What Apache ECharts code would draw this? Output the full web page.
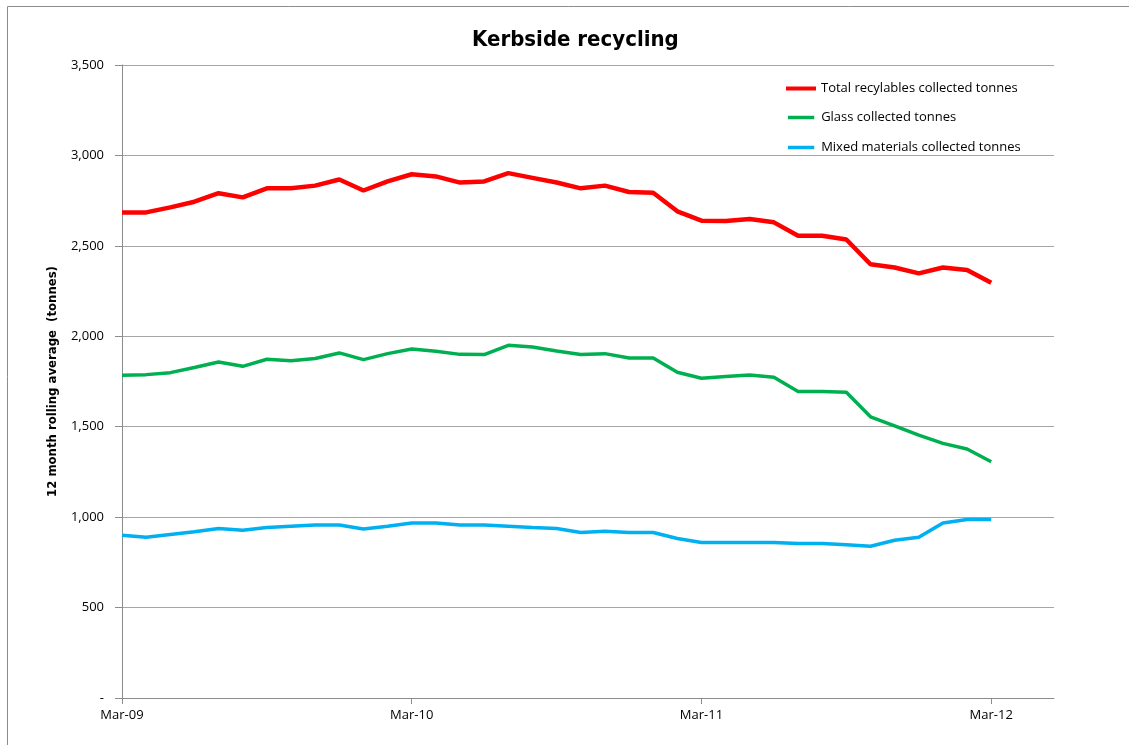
<!DOCTYPE html>
<html>
<head>
<meta charset="utf-8">
<script src="https://cdn.jsdelivr.net/npm/echarts@6/dist/echarts.min.js"></script>
<style>html,body{margin:0;padding:0;background:#fff}#c{width:1129px;height:745px}</style>
</head>
<body>
<div id="c"></div>
<script>
// Monthly points, Mar-09 .. Mar-12
const months = ['Mar-09','Apr-09','May-09','Jun-09','Jul-09','Aug-09','Sep-09','Oct-09','Nov-09','Dec-09','Jan-10','Feb-10',
  'Mar-10','Apr-10','May-10','Jun-10','Jul-10','Aug-10','Sep-10','Oct-10','Nov-10','Dec-10','Jan-11','Feb-11',
  'Mar-11','Apr-11','May-11','Jun-11','Jul-11','Aug-11','Sep-11','Oct-11','Nov-11','Dec-11','Jan-12','Feb-12','Mar-12'];
const totalRecyclables = [2685,2685,2713,2744,2791,2768,2818,2818,2833,2867,2806,2857,
  2896,2884,2850,2856,2902,2876,2850,2818,2833,2798,2794,2691,
  2639,2637,2648,2630,2556,2556,2535,2398,2380,2348,2380,2367,2296];
const glass = [1784,1788,1799,1827,1858,1834,1873,1865,1877,1908,1871,1904,
  1930,1917,1900,1899,1950,1941,1919,1899,1904,1880,1880,1801,
  1768,1778,1786,1773,1695,1695,1690,1555,1505,1454,1408,1377,1306];
const mixedMaterials = [900,889,904,919,937,928,943,950,957,957,934,950,
  968,968,956,956,950,943,937,915,922,915,915,882,
  860,860,860,860,854,854,847,839,872,889,968,987,987];
const seriesNames = ['Total recylables collected tonnes','Glass collected tonnes','Mixed materials collected tonnes'];
const seriesColors = ['#ff0000','#00b050','#00b0f0'];
const yTickValues = [0,500,1000,1500,2000,2500,3000,3500];
const yTickLabels = ['-','500','1,000','1,500','2,000','2,500','3,000','3,500'];
const xTickLabels = ['Mar-09','Mar-10','Mar-11','Mar-12'];

const xTickIdx = xTickLabels.map(l => months.indexOf(l));
const toPts = arr => arr.map((v, i) => [i, v]);
const font = "'Open Sans'";
const narrow = "'Liberation Sans Narrow','DejaVu Sans Condensed',sans-serif";
const legendTops = [77, 106, 136];
const legendThick = [4.5, 3.5, 3.5];
const chart = echarts.init(document.getElementById('c'));
chart.setOption({
  animation: false,
  backgroundColor: '#fff',
  graphic: [{type:'rect', shape:{x:7.5,y:6.5,width:1140,height:760}, style:{fill:'none', stroke:'#8c8c8c', lineWidth:1}, silent:true, z:-1}],
  title: {
    text: 'Kerbside recycling', left: 467, top: 24,
    textStyle: {fontFamily: narrow, fontWeight: 'bold', fontSize: 22, color: '#000'}
  },
  legend: seriesNames.map((n, i) => ({
    orient: 'vertical', left: i === 0 ? 781 : 783, top: legendTops[i], itemWidth: 30, itemHeight: legendThick[i],
    icon: 'path://M0 0H30V4H0Z',
    data: [{name: n, itemStyle: {color: seriesColors[i]}}],
    textStyle: {fontFamily: font, fontSize: 13, color: '#000'}
  })),
  grid: {left: 122, top: 65, width: 932, height: 633, containLabel: false},
  xAxis: {
    type: 'value', min: 0, max: 38.6,
    splitLine: {show: false},
    axisLine: {show: true, lineStyle: {color: '#8c8c8c', width: 1}},
    axisTick: {show: true, length: 6, inside: false, customValues: xTickIdx, lineStyle: {color: '#8c8c8c'}},
    axisLabel: {customValues: xTickIdx, formatter: v => months[v] || '', fontFamily: font, fontSize: 13, color: '#000', margin: 11}
  },
  yAxis: {
    type: 'value', min: 0, max: 3500, interval: 500,
    name: '12 month rolling average  (tonnes)', nameLocation: 'middle', nameGap: 63,
    nameTextStyle: {fontFamily: narrow, fontWeight: 'bold', fontSize: 13, color: '#000'},
    axisLine: {show: true, lineStyle: {color: '#8c8c8c', width: 1}},
    axisTick: {show: true, length: 7, lineStyle: {color: '#8c8c8c'}},
    splitLine: {show: true, lineStyle: {color: '#a6a6a6', width: 1}},
    axisLabel: {formatter: v => yTickLabels[yTickValues.indexOf(v)], fontFamily: font, fontSize: 13, color: '#000', margin: 18}
  },
  series: seriesNames.map((n, i) => ({
    name: n, type: 'line', data: toPts([totalRecyclables, glass, mixedMaterials][i]), symbol: 'none',
    lineStyle: {color: seriesColors[i], width: i === 0 ? 4.5 : 3.5}, itemStyle: {color: seriesColors[i]}
  }))
});
</script>
</body>
</html>
